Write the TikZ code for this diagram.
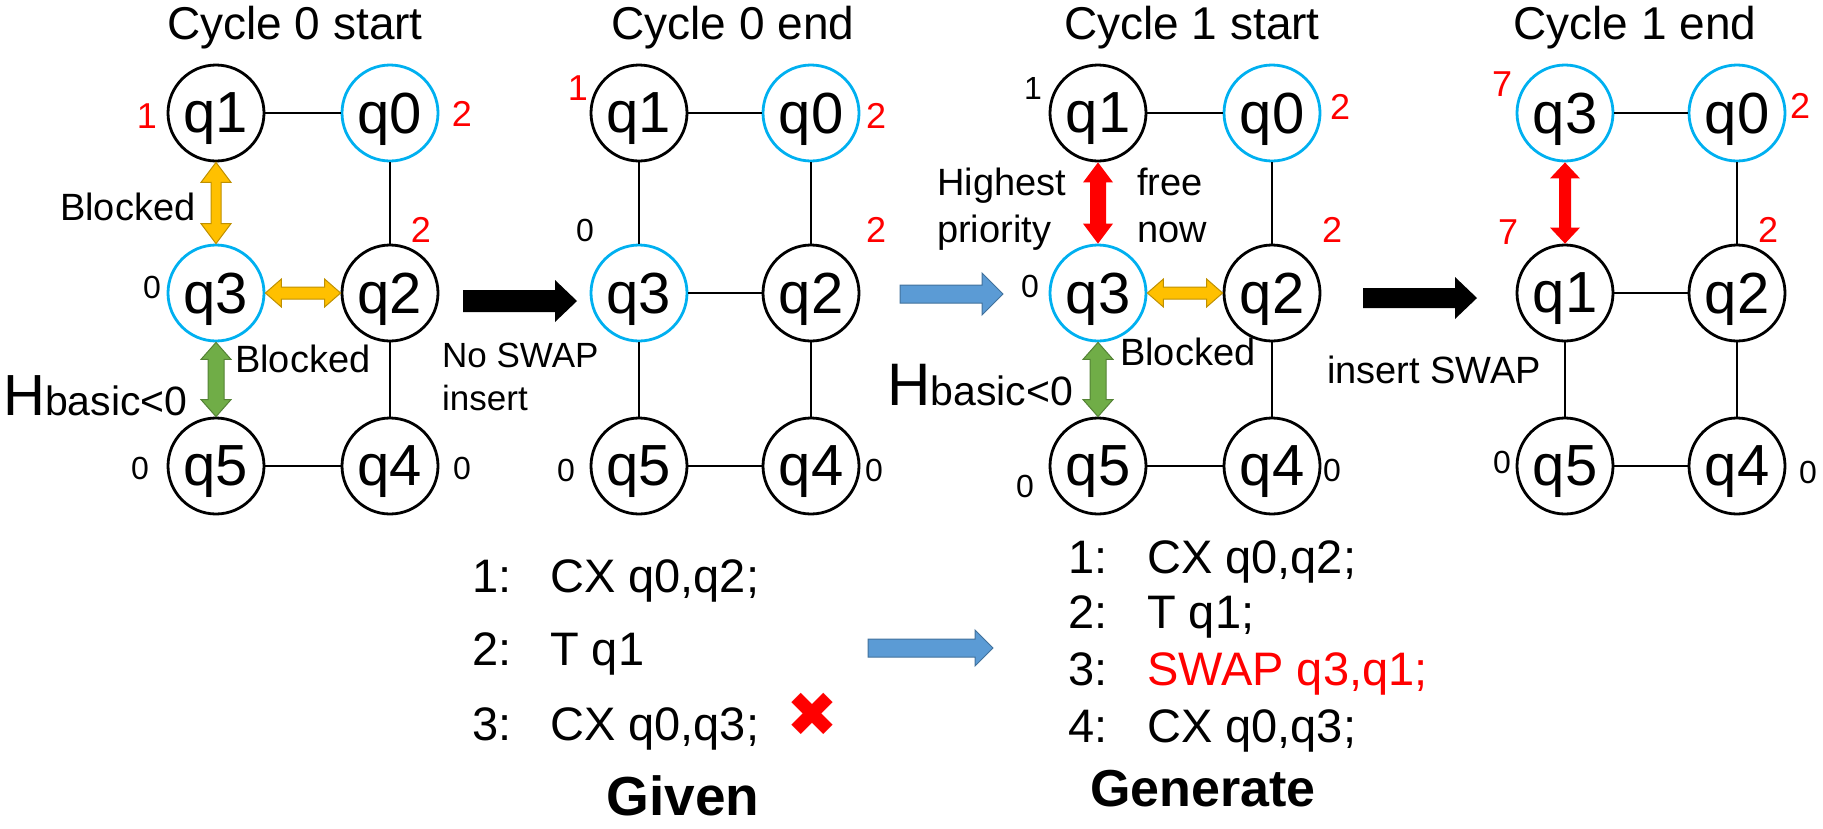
\documentclass[tikz,border=0pt]{standalone}
\usepackage{fontspec}
\setmainfont{Liberation Sans}
\newfontfamily\symfont{DejaVu Sans}
\usetikzlibrary{calc}
\definecolor{qblue}{RGB}{0,176,240}
\definecolor{goldf}{RGB}{255,192,0}
\definecolor{goldd}{RGB}{191,144,0}
\definecolor{greenf}{RGB}{112,173,71}
\definecolor{greend}{RGB}{84,130,53}
\definecolor{bluef}{RGB}{91,155,213}
\definecolor{blued}{RGB}{65,113,156}
\definecolor{redf}{RGB}{255,0,0}
% double-headed block arrow: style, from, to, half shaft, half head, head length
\newcommand\dblarrow[6]{%
  \coordinate (ba1) at ($(#2)!#6!(#3)$);
  \coordinate (ba2) at ($(#3)!#6!(#2)$);
  \path[#1] (#2) -- ($(ba1)!#5!90:(#3)$) -- ($(ba1)!#4!90:(#3)$) -- ($(ba2)!#4!-90:(#2)$) -- ($(ba2)!#5!-90:(#2)$) -- (#3) -- ($(ba2)!#5!90:(#2)$) -- ($(ba2)!#4!90:(#2)$) -- ($(ba1)!#4!-90:(#3)$) -- ($(ba1)!#5!-90:(#3)$) -- cycle;}
% single block arrow
\newcommand\sglarrow[6]{%
  \coordinate (ba2) at ($(#3)!#6!(#2)$);
  \path[#1] ($(#2)!#4!90:(#3)$) -- ($(ba2)!#4!-90:(#2)$) -- ($(ba2)!#5!-90:(#2)$) -- (#3) -- ($(ba2)!#5!90:(#2)$) -- ($(ba2)!#4!90:(#2)$) -- ($(#2)!#4!-90:(#3)$) -- cycle;}
\begin{document}
\begin{tikzpicture}[x=1pt,y=-1pt,
  qn/.style={circle,draw=black,line width=2.8pt,minimum size=96pt,inner sep=0pt,text depth=0pt,font=\fontsize{58}{60}\selectfont},
  qb/.style={qn,draw=qblue},
  edge/.style={draw=black,line width=2pt},
  rnum/.style={inner sep=0pt,text=redf,font=\fontsize{36}{38}\selectfont},
  bnum/.style={inner sep=0pt,text=black,font=\fontsize{32}{34}\selectfont},
  ttl/.style={inner sep=0pt,font=\fontsize{46}{48}\selectfont},
  note/.style={inner sep=0pt,anchor=base west,font=\fontsize{38}{40}\selectfont},
  code/.style={inner sep=0pt,anchor=base west,font=\fontsize{47}{49}\selectfont},
  bigb/.style={inner sep=0pt,anchor=base,font=\fontsize{55}{57}\selectfont\bfseries},
  yel/.style={fill=goldf,draw=goldd,line width=1pt},
  grn/.style={fill=greenf,draw=greend,line width=1pt},
  redarr/.style={fill=redf},
  blk/.style={fill=black},
  blu/.style={fill=bluef,draw=blued,line width=1pt}]
\useasboundingbox (0,0) rectangle (1823,828);

% ---------- titles
\node[ttl] (t1) at (295,28) {Cycle 0 start};
\node[ttl] (t2) at (733,28) {Cycle 0 end};
\node[ttl] (t3) at (1192,28) {Cycle 1 start};
\node[ttl] (t4) at (1635,28) {Cycle 1 end};

% ---------- panel A
\node[qn] (Aq1) at (216,113) {q1};
\node[qb] (Aq0) at (390,113) {q0};
\node[qb] (Aq3) at (216,293) {q3};
\node[qn] (Aq2) at (390,293) {q2};
\node[qn] (Aq5) at (216,466) {q5};
\node[qn] (Aq4) at (390,466) {q4};
\draw[edge] (Aq1) -- (Aq0);
\draw[edge] (Aq0) -- (Aq2);
\draw[edge] (Aq2) -- (Aq4);
\draw[edge] (Aq5) -- (Aq4);
\dblarrow{yel}{Aq1.south}{Aq3.north}{5pt}{15pt}{20pt}
\dblarrow{yel}{Aq3.east}{Aq2.west}{6pt}{14pt}{16pt}
\dblarrow{grn}{Aq3.south}{Aq5.north}{8pt}{15pt}{17pt}
\node[rnum] (An1) at (147,116) {1};
\node[rnum] (An0) at (462,114) {2};
\node[rnum] (An2) at (421,230) {2};
\node[bnum] (An3) at (152,287) {0};
\node[bnum] (An5) at (140,468) {0};
\node[bnum] (An4) at (462,468) {0};
\node[note] (Ab1) at (60,220) {Blocked};
\node[note] (Ab2) at (235,372) {Blocked};
\node[inner sep=0pt,anchor=base west] (Ah) at (3,415) {\fontsize{58}{60}\selectfont H\fontsize{41}{43}\selectfont basic<0};

% arrow A -> B
\coordinate (k1s) at (463,301);
\coordinate (k1e) at (577,301);
\sglarrow{blk}{k1s}{k1e}{11pt}{21pt}{22pt}
\node[note,font=\fontsize{35}{37}\selectfont] (Ans) at (442,367) {No SWAP};
\node[note,font=\fontsize{35}{37}\selectfont] (Ani) at (442,410) {insert};

% ---------- panel B
\node[qn] (Bq1) at (639,113) {q1};
\node[qb] (Bq0) at (811,113) {q0};
\node[qb] (Bq3) at (639,293) {q3};
\node[qn] (Bq2) at (811,293) {q2};
\node[qn] (Bq5) at (639,466) {q5};
\node[qn] (Bq4) at (811,466) {q4};
\draw[edge] (Bq1) -- (Bq0);
\draw[edge] (Bq1) -- (Bq3);
\draw[edge] (Bq0) -- (Bq2);
\draw[edge] (Bq3) -- (Bq2);
\draw[edge] (Bq3) -- (Bq5);
\draw[edge] (Bq2) -- (Bq4);
\draw[edge] (Bq5) -- (Bq4);
\node[rnum] (Bn1) at (578,88) {1};
\node[rnum] (Bn0) at (876,116) {2};
\node[bnum] (Bn3) at (585,230) {0};
\node[rnum] (Bn2) at (876,230) {2};
\node[bnum] (Bn5) at (566,470) {0};
\node[bnum] (Bn4) at (874,470) {0};

% arrow B -> C
\coordinate (k2s) at (900,294);
\coordinate (k2e) at (1003,294);
\sglarrow{blu}{k2s}{k2e}{9pt}{21pt}{21pt}

% ---------- panel C
\node[qn] (Cq1) at (1098,113) {q1};
\node[qb] (Cq0) at (1272,113) {q0};
\node[qb] (Cq3) at (1098,293) {q3};
\node[qn] (Cq2) at (1272,293) {q2};
\node[qn] (Cq5) at (1098,466) {q5};
\node[qn] (Cq4) at (1272,466) {q4};
\draw[edge] (Cq1) -- (Cq0);
\draw[edge] (Cq0) -- (Cq2);
\draw[edge] (Cq2) -- (Cq4);
\draw[edge] (Cq5) -- (Cq4);
\dblarrow{redarr}{Cq1.south}{Cq3.north}{8pt}{15pt}{20pt}
\dblarrow{yel}{Cq3.east}{Cq2.west}{6pt}{14pt}{16pt}
\dblarrow{grn}{Cq3.south}{Cq5.north}{8pt}{15pt}{17pt}
\node[bnum] (Cn1) at (1033,88) {1};
\node[rnum] (Cn0) at (1340,107) {2};
\node[rnum] (Cn2) at (1332,230) {2};
\node[bnum] (Cn3) at (1030,286) {0};
\node[bnum] (Cn5) at (1025,486) {0};
\node[bnum] (Cn4) at (1332,470) {0};
\node[note] (Chi) at (937,195) {Highest};
\node[note] (Cpr) at (937,242) {priority};
\node[note] (Cfr) at (1137,195) {free};
\node[note] (Cno) at (1137,242) {now};
\node[note] (Cbl) at (1120,365) {Blocked};
\node[inner sep=0pt,anchor=base west] (Ch) at (887,405) {\fontsize{60}{62}\selectfont H\fontsize{41}{43}\selectfont basic<0};

% arrow C -> D
\coordinate (k3s) at (1363,298);
\coordinate (k3e) at (1477,298);
\sglarrow{blk}{k3s}{k3e}{10pt}{21pt}{22pt}
\node[note] (Cis) at (1327,383) {insert SWAP};

% ---------- panel D
\node[qb] (Dq3) at (1565,113) {q3};
\node[qb] (Dq0) at (1737,113) {q0};
\node[qn] (Dq1) at (1565,293) {q1};
\node[qn] (Dq2) at (1737,293) {q2};
\node[qn] (Dq5) at (1565,466) {q5};
\node[qn] (Dq4) at (1737,466) {q4};
\draw[edge] (Dq3) -- (Dq0);
\draw[edge] (Dq0) -- (Dq2);
\draw[edge] (Dq1) -- (Dq2);
\draw[edge] (Dq1) -- (Dq5);
\draw[edge] (Dq2) -- (Dq4);
\draw[edge] (Dq5) -- (Dq4);
\dblarrow{redarr}{Dq3.south}{Dq1.north}{6pt}{15pt}{16pt}
\node[rnum] (Dn3) at (1502,84) {7};
\node[rnum] (Dn0) at (1800,106) {2};
\node[rnum] (Dn1) at (1508,232) {7};
\node[rnum] (Dn2) at (1768,230) {2};
\node[bnum] (Dn5) at (1502,462) {0};
\node[bnum] (Dn4) at (1808,472) {0};

% ---------- Given list
\node[code] (g1n) at (472,592) {1:};
\node[code] (g1t) at (550,592) {CX q0,q2;};
\node[code] (g2n) at (472,665) {2:};
\node[code] (g2t) at (550,665) {T q1};
\node[code] (g3n) at (472,740) {3:};
\node[code] (g3t) at (550,740) {CX q0,q3;};
\node[inner sep=0pt,text=redf,font=\symfont\fontsize{62}{64}\selectfont] (gx) at (812,715) {✖};
\node[bigb] (given) at (683,815) {Given};

% bottom arrow
\coordinate (k4s) at (868,648);
\coordinate (k4e) at (993,648);
\sglarrow{blu}{k4s}{k4e}{9pt}{18pt}{18pt}

% ---------- Generate list
\node[code] (h1n) at (1068,573) {1:};
\node[code] (h1t) at (1147,573) {CX q0,q2;};
\node[code] (h2n) at (1068,628) {2:};
\node[code] (h2t) at (1147,628) {T q1;};
\node[code] (h3n) at (1068,685) {3:};
\node[code,text=redf] (h3t) at (1147,685) {SWAP q3,q1;};
\node[code] (h4n) at (1068,742) {4:};
\node[code] (h4t) at (1147,742) {CX q0,q3;};
\node[bigb,font=\fontsize{52}{54}\selectfont\bfseries] (gen) at (1203,806) {Generate};
\end{tikzpicture}
\end{document}
